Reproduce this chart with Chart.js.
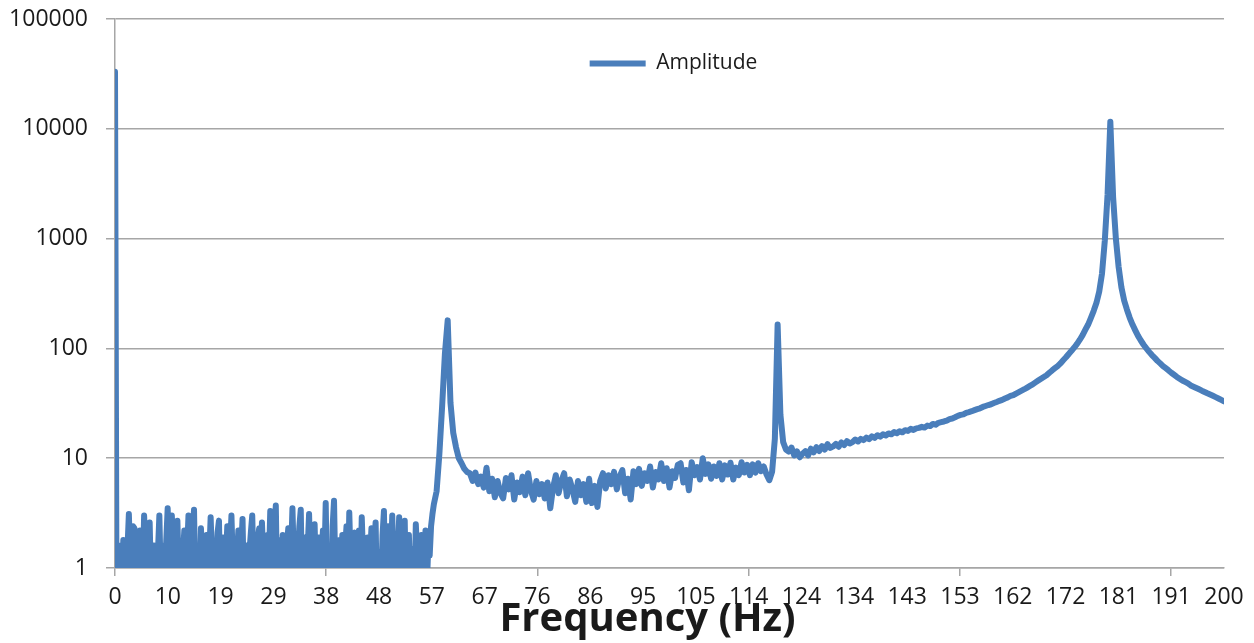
<!DOCTYPE html>
<html>
<head>
<meta charset="utf-8">
<script src="https://cdn.jsdelivr.net/npm/chart.js@4.4.1/dist/chart.umd.min.js"></script>
<style>
  html, body { margin: 0; padding: 0; background: #fff; }
  #wrap { width: 1254px; height: 643px; }
</style>
</head>
<body>
<div id="wrap"><canvas id="spectrum"></canvas></div>
<script>
// low band noise, every 0.25 Hz from 0 to 57.25 Hz
const noiseStep = 0.25;
const noiseAmp = [
  33000, 1.2, 0.8, 1.6,   // 0
  1.3, 0.7, 1.8, 1.1,     // 1
  0.6, 1.5, 3.1, 1.2,     // 2
  0.7, 2.4, 2.3, 1.0,     // 3
  1.4, 0.6, 2.2, 1.3,     // 4
  0.8, 3.0, 1.5, 0.6,     // 5
  1.3, 2.6, 0.7, 1.1,     // 6
  1.6, 0.5, 1.2, 1.4,     // 7
  3.0, 0.8, 1.6, 1.1,     // 8
  0.6, 1.8, 3.5, 1.2,     // 9
  0.7, 3.0, 1.3, 0.6,     // 10
  1.5, 2.7, 0.9, 1.6,     // 11
  0.5, 1.3, 2.2, 1.0,     // 12
  1.4, 3.0, 0.6, 1.7,     // 13
  2.0, 3.4, 0.6, 1.2,     // 14
  1.6, 0.7, 2.3, 1.1,     // 15
  0.6, 1.4, 2.0, 0.8,     // 16
  1.3, 2.9, 1.2, 0.5,     // 17
  1.5, 1.1, 2.1, 2.7,     // 18
  0.6, 1.4, 1.9, 0.8,     // 19
  1.2, 2.4, 0.6, 1.5,     // 20
  3.0, 1.1, 0.5, 1.7,     // 21
  1.3, 2.2, 0.7, 1.4,     // 22
  2.8, 0.6, 1.2, 1.6,     // 23
  0.5, 1.4, 2.1, 3.0,     // 24
  0.9, 1.3, 0.5, 1.8,     // 25
  2.3, 0.7, 2.6, 1.2,     // 26
  0.6, 1.5, 2.0, 1.1,     // 27
  3.3, 0.6, 1.4, 2.2,     // 28
  3.7, 0.6, 1.3, 1.8,     // 29
  0.5, 2.0, 1.2, 0.7,     // 30
  1.6, 2.3, 0.6, 1.3,     // 31
  3.5, 1.2, 0.5, 1.7,     // 32
  1.4, 2.4, 3.4, 0.6,     // 33
  1.2, 1.9, 0.6, 1.5,     // 34
  3.1, 1.0, 0.5, 1.6,     // 35
  2.5, 0.7, 1.4, 1.9,     // 36
  0.6, 1.3, 2.2, 1.0,     // 37
  3.9, 0.6, 1.5, 1.2,     // 38
  0.5, 2.4, 4.1, 0.8,     // 39
  1.4, 0.6, 1.8, 1.2,     // 40
  2.0, 0.7, 1.5, 2.4,     // 41
  0.6, 3.2, 1.1, 0.5,     // 42
  1.6, 2.1, 0.7, 1.3,     // 43
  2.2, 0.6, 2.9, 1.2,     // 44
  0.5, 1.5, 1.9, 0.7,     // 45
  1.3, 2.3, 0.6, 1.6,     // 46
  2.6, 0.5, 1.4, 1.1,     // 47
  0.7, 2.0, 3.3, 0.6,     // 48
  1.5, 2.4, 0.6, 1.2,     // 49
  3.0, 0.8, 1.6, 0.5,     // 50
  1.4, 2.9, 1.1, 0.6,     // 51
  1.8, 2.7, 0.5, 1.3,     // 52
  2.0, 0.7, 1.5, 1.2,     // 53
  0.6, 2.5, 1.3, 0.5,     // 54
  1.4, 2.0, 0.6, 1.2,     // 55
  2.2, 0.7, 1.6, 1.3,     // 56
  2.4, 3.1                // 57
];

// rest of the spectrum, every 0.5 Hz from 57.5 to 200 Hz
const mainStart = 57.5;
const mainStep = 0.5;
const mainAmp = [
  // 57.5 - 59.5
  3.8, 5.0, 11, 30, 90,
  // 60 - 64.5
  180, 32, 17, 12.6, 10, 9, 8, 7.5, 7.3, 6.2,
  // 65 - 69.5
  7.4, 5.8, 6.8, 5.4, 8.2, 5.0, 6.5, 4.4, 6.2, 4.8,
  // 70 - 74.5
  4.3, 6.6, 5.2, 7.0, 4.2, 6.0, 4.9, 6.8, 4.6, 7.3,
  // 75 - 79.5
  5.1, 4.2, 6.2, 4.7, 5.8, 4.3, 6.0, 3.5, 5.4, 7.0,
  // 80 - 84.5
  4.8, 6.2, 7.3, 4.5, 6.4, 5.2, 4.0, 6.2, 4.6, 5.8,
  // 85 - 89.5
  4.0, 6.5, 3.9, 5.6, 3.6, 6.2, 7.3, 5.3, 7.0, 5.8,
  // 90 - 94.5
  7.5, 5.2, 6.8, 7.8, 4.8, 6.5, 4.2, 7.6, 5.8, 8.0,
  // 95 - 99.5
  5.6, 7.3, 6.2, 8.4, 5.4, 7.5, 6.4, 9.0, 6.2, 8.1,
  // 100 - 104.5
  5.4, 7.6, 6.6, 8.7, 9.0, 6.0, 7.8, 5.1, 9.2, 7.0,
  // 105 - 109.5
  8.3, 6.4, 10, 7.2, 8.8, 6.5, 8.4, 6.9, 9.0, 6.4,
  // 110 - 114.5
  8.6, 7.1, 9.1, 6.4, 8.2, 7.0, 9.2, 7.4, 8.7, 7.0,
  // 115 - 119.5
  8.8, 7.4, 9.0, 7.6, 8.4, 7.1, 6.3, 7.5, 15, 165,
  // 120 - 124.5
  25, 14, 12, 11.5, 12.5, 10.6, 11.5, 10.2, 11.0, 11.6,
  // 125 - 129.5
  10.6, 12.2, 11.3, 12.6, 11.6, 12.9, 12.0, 13.4, 12.4, 12.8,
  // 130 - 134.5
  13.5, 12.7, 13.9, 13.2, 14.3, 13.6, 14.0, 14.8, 14.2, 15.0,
  // 135 - 139.5
  14.6, 15.4, 14.9, 15.8, 15.3, 16.2, 15.7, 16.5, 16.1, 16.8,
  // 140 - 144.5
  16.5, 17.3, 16.9, 17.6, 17.2, 18.0, 17.7, 18.5, 18.1, 18.7,
  // 145 - 149.5
  18.9, 19.3, 19.0, 19.8, 19.6, 20.5, 20.2, 21.0, 21.3, 21.6,
  // 150 - 154.5
  22.0, 22.7, 23.0, 23.6, 24.3, 24.8, 25.1, 25.9, 26.3, 26.8,
  // 155 - 159.5
  27.4, 28.0, 28.5, 29.3, 29.9, 30.5, 31.0, 31.8, 32.5, 33.3,
  // 160 - 164.5
  34.0, 35.0, 35.8, 36.9, 37.5, 38.8, 40.0, 41.2, 42.5, 44.0,
  // 165 - 169.5
  45.5, 47.0, 49.0, 51.0, 53.0, 55.0, 57.0, 60.0, 63.0, 66.0,
  // 170 - 174.5
  69, 73, 78, 83, 89, 95, 102, 110, 120, 132,
  // 175 - 179.5
  148, 165, 190, 220, 260, 330, 480, 950, 2500, 11600,
  // 180 - 184.5
  2400, 1000, 550, 360, 272, 225, 190, 165, 146, 130,
  // 185 - 189.5
  118, 108, 100, 93, 87, 82, 77, 73, 69, 66,
  // 190 - 194.5
  63, 60, 57.5, 55, 53, 51, 49.5, 48, 46, 44.8,
  // 195 - 199.5
  43.6, 42.4, 41.2, 40.1, 39, 38, 37, 36, 35, 34,
  // 200
  33
];

const freqLabels = ["0", "10", "19", "29", "38", "48", "57", "67", "76", "86", "95",
  "105", "114", "124", "134", "143", "153", "162", "172", "181", "191", "200"];
const freqMax = 200;
const ampTicks = [1, 10, 100, 1000, 10000, 100000];

const gridGray = "#a6a6a6";
const textColor = "#1a1a1a";

Chart.defaults.font.family = "'Open Sans', sans-serif";
Chart.defaults.color = textColor;

// legend inside the plot near the top, axis title a bit left of centre
const boxPlacer = {
  id: "boxPlacer",
  afterLayout(chart) {
    const area = chart.chartArea;
    const mid = (area.left + area.right) / 2;

    const lg = chart.legend;
    lg.left = mid - lg.width / 2 + 4;
    lg.right = lg.left + lg.width;
    lg.top = area.top + 24;
    lg.bottom = lg.top + 40;

    const t = chart.titleBlock;
    const half = (t.right - t.left) / 2;
    t.left = mid - 22 - half;
    t.right = mid - 22 + half;
    t.top = area.bottom + 52 - t.height / 2;
    t.bottom = t.top + t.height;
  }
};

const points = noiseAmp.map((v, i) => ({ x: i * noiseStep, y: v }))
  .concat(mainAmp.map((v, i) => ({ x: mainStart + i * mainStep, y: v })));

new Chart(document.getElementById("spectrum"), {
  type: "line",
  data: {
    datasets: [{
      label: "Amplitude",
      data: points,
      borderColor: "#4a7ebb",
      backgroundColor: "#4a7ebb",
      borderWidth: 6,
      borderJoinStyle: "round",
      borderCapStyle: "round",
      pointRadius: 0,
      tension: 0,
      fill: false
    }]
  },
  options: {
    responsive: true,
    maintainAspectRatio: false,
    animation: false,
    layout: { padding: { top: 19, right: 30, left: 0, bottom: 0 } },
    plugins: {
      tooltip: { enabled: false },
      legend: {
        position: "chartArea",
        align: "start",
        labels: {
          usePointStyle: true,
          pointStyle: "line",
          pointStyleWidth: 56,
          color: textColor,
          font: { size: 21 }
        }
      },
      title: {
        display: true,
        position: "bottom",
        text: "Frequency (Hz)",
        color: textColor,
        font: { size: 40, weight: "bold", lineHeight: 0.7 },
        padding: 0
      }
    },
    scales: {
      x: {
        type: "linear",
        min: 0,
        max: freqMax,
        afterBuildTicks: (scale) => {
          scale.ticks = freqLabels.map((_, i) => ({ value: i * freqMax / (freqLabels.length - 1) }));
        },
        afterFit: (scale) => { scale.height = 47; },
        ticks: {
          autoSkip: false,
          maxRotation: 0,
          padding: 8,
          color: textColor,
          font: { size: 23 },
          callback: (value, index) => freqLabels[index]
        },
        grid: {
          drawOnChartArea: false,
          tickLength: 8,
          lineWidth: 1.5,
          tickColor: (ctx) => (ctx.index % 4 === 0 ? gridGray : "rgba(0,0,0,0)")
        },
        border: { display: true, color: gridGray, width: 1.5 }
      },
      y: {
        type: "logarithmic",
        min: 1,
        max: 100000,
        afterBuildTicks: (scale) => {
          scale.ticks = ampTicks.map((v) => ({ value: v }));
        },
        afterFit: (scale) => {
          scale.width = 115;
          scale.paddingTop = 10;
          scale.paddingBottom = 10;
        },
        ticks: {
          padding: 18,
          color: textColor,
          font: { size: 23 },
          callback: (value) => String(value)
        },
        grid: {
          color: gridGray,
          lineWidth: 1.5,
          tickLength: 9
        },
        border: { display: true, color: gridGray, width: 1.5 }
      }
    }
  },
  plugins: [boxPlacer]
});
</script>
</body>
</html>
